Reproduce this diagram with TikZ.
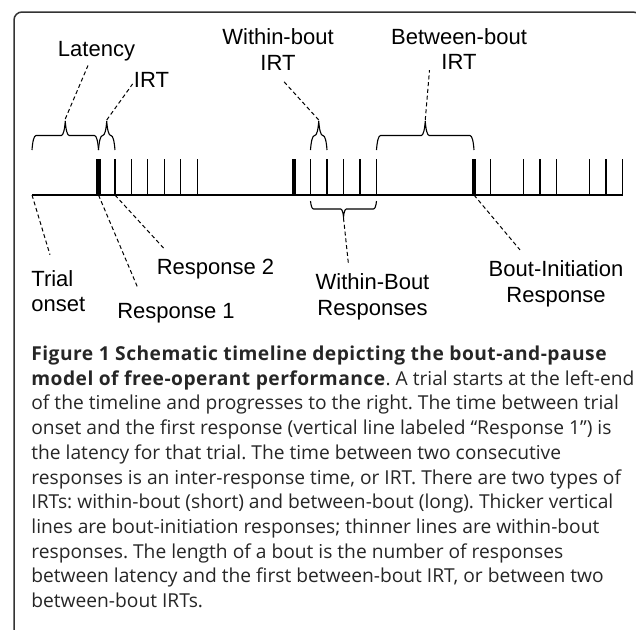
\documentclass[tikz,border=0pt]{standalone}
\usepackage{fontspec}
\setmainfont{Liberation Sans}
\newfontfamily\capfont{Open Sans}
\usepackage{tikz}
\usetikzlibrary{positioning, calc, decorations.pathreplacing}
\frenchspacing

\tikzset{
    lbl/.style={font=\fontsize{11}{12.75}\selectfont, align=center, inner sep=0pt},
    capnode/.style={font=\capfont\fontsize{9.6}{12.35}\selectfont, align=left, inner sep=0pt, text=black!85},
    lead/.style={line width=0.5pt, dash pattern=on 2pt off 1.4pt},
    resp/.style={line width=0.55pt},
    boutresp/.style={line width=2.4pt},
    topbrace/.style={decorate, line width=0.55pt, decoration={brace, amplitude=2pt, transform={yscale=7.25}}},
    lowbrace/.style={decorate, line width=0.55pt, decoration={brace, amplitude=1.5pt, transform={yscale=-5.3}}}
}

\begin{document}
\begin{tikzpicture}[x=0.5pt, y=-0.5pt]

            \useasboundingbox (0,0) rectangle (636,629);

            % Frame
            \draw[line width=0.75pt, black!80, rounded corners=4pt] (14,660) -- (14,12) -- (641,12) -- (641,660);

            % Timeline
            \coordinate (t0) at (32,195);
            \coordinate (t1) at (623,195);
            \draw[line width=0.65pt] (t0) -- (t1);

            % Bout-initiation responses (thick)
            \draw[boutresp] (98.5,195) coordinate (r1) -- ++(0,-36);
            \draw[boutresp] (294,195) coordinate (b2) -- ++(0,-36);
            \draw[boutresp] (474,195) coordinate (b3) -- ++(0,-36);

            % Within-bout responses (thin)
            \foreach \k in {1,...,6}
                \draw[resp] (98.5+16.45*\k,195) coordinate (a\k) -- ++(0,-36);
            \foreach \k in {1,...,5}
                \draw[resp] (294+16.5*\k,195) coordinate (w\k) -- ++(0,-36);
            \foreach \k in {1,3,4,5,7,8,9}
                \draw[resp] (474+16.5*\k,195) coordinate (c\k) -- ++(0,-36);

            % Braces above the timeline
            \draw[topbrace] ($(t0)+(0,-45)$) -- ($(r1)+(0,-45)$);
            \draw[topbrace] ($(r1)+(0,-45)$) -- ($(a1)+(0,-45)$);
            \draw[topbrace] ($(w1)+(0,-45)$) -- ($(w2)+(0,-45)$);
            \draw[topbrace] ($(w5)+(0,-45)$) -- ($(b3)+(0,-45)$);
            \coordinate (latTip) at ($(t0)!0.5!(r1)+(0,-76)$);
            \coordinate (irtTip) at ($(r1)!0.5!(a1)+(0,-75)$);
            \coordinate (wirtTip) at ($(w1)!0.5!(w2)+(0,-75)$);
            \coordinate (birtTip) at ($(w5)!0.5!(b3)+(0,-75)$);

            % Brace below the timeline
            \draw[lowbrace] ($(w1)+(0,6)$) -- ($(w5)+(0,6)$);
            \coordinate (wbrTip) at ($(w1)!0.5!(w5)+(0,23)$);

            % Labels
            \node[lbl] (lat) at (96.5,51.5) {Latency};
            \node[lbl] (irt) at (151.5,80) {IRT};
            \node[lbl] (wirt) at (278,49.5) {Within-bout\\IRT};
            \node[lbl] (birt) at (459,49) {Between-bout\\IRT};
            \node[lbl, align=left, anchor=west] (trial) at (31,291) {Trial\\onset};
            \node[lbl] (resp1) at (176,313.3) {Response 1};
            \node[lbl] (resp2) at (215.5,269.3) {Response 2};
            \node[lbl] (wbr) at (372.5,297) {Within-Bout\\Responses};
            \node[lbl] (bir) at (556,284) {Bout-Initiation\\Response};

            % Dashed leaders
            \draw[lead] (latTip) -- ([xshift=-4.25pt,yshift=-1.85pt]lat.south);
            \draw[lead] (irtTip) -- ([xshift=-0.5pt,yshift=2pt]irt.south west);
            \draw[lead] (wirtTip) -- ([xshift=2.5pt,yshift=-5pt]wirt.south);
            \draw[lead] (birtTip) -- ([xshift=-14.75pt]birt.south);
            \draw[lead] (wbrTip) -- ([xshift=-12pt,yshift=4.5pt]wbr.north);
            \draw[lead] (t0) -- ([xshift=9.5pt,yshift=7.5pt]trial.north west);
            \draw[lead] (r1) -- ([xshift=10.5pt,yshift=7.5pt]resp1.north west);
            \draw[lead] (a1) -- ([xshift=4pt,yshift=5pt]resp2.north west);
            \draw[lead] (b3) -- ([xshift=-18pt,yshift=5.35pt]bir.north);

            % Caption
            \node[capnode, anchor=north west] (cap) at (31,345.5) {%
                {\addfontfeature{LetterSpace=2.5}\textbf{Figure 1 Schematic timeline depicting the bout-and-pause}}\\
                {\addfontfeature{LetterSpace=2.5}\textbf{model of free-operant performance}}. A trial starts at the left-end\\
                of the timeline and progresses to the right. The time between trial\\
                onset and the first response (vertical line labeled “Response 1”) is\\
                the latency for that trial. The time between two consecutive\\
                responses is an inter-response time, or IRT. There are two types of\\
                IRTs: within-bout (short) and between-bout (long). Thicker vertical\\
                lines are bout-initiation responses; thinner lines are within-bout\\
                responses. The length of a bout is the number of responses\\
                between latency and the first between-bout IRT, or between two\\
                between-bout IRTs.};

\end{tikzpicture}
\end{document}
